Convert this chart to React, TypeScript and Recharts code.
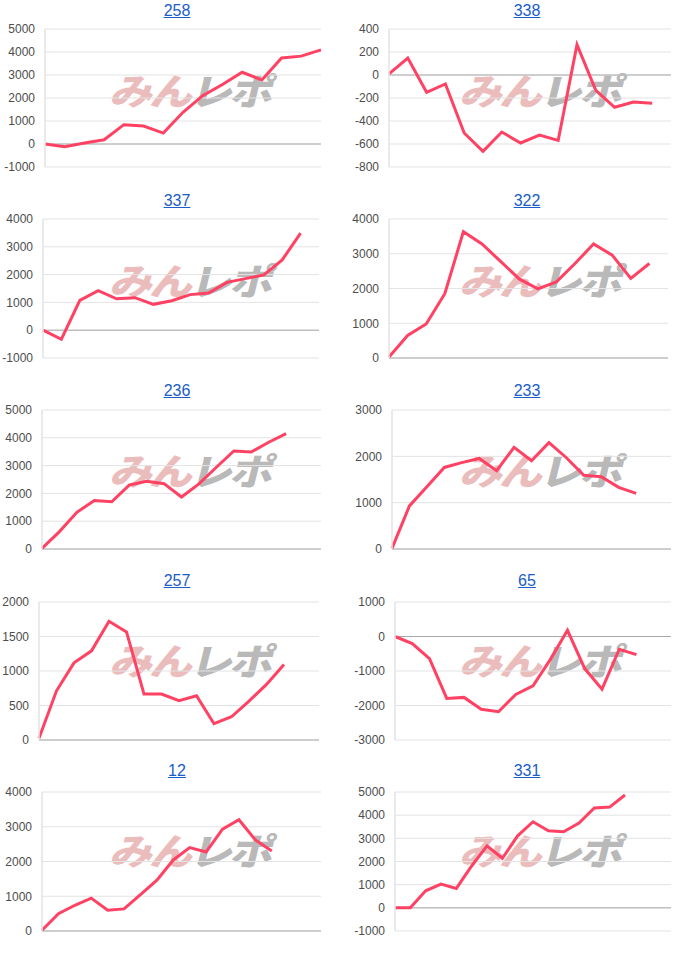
import React from "react";
import { LineChart, Line, XAxis, YAxis, CartesianGrid, ReferenceLine } from "recharts";

// category labels (days) – hidden on the x axis
const days = ["1", "2", "3", "4", "5", "6", "7", "8", "9", "10", "11", "12", "13", "14", "15", "16", "17", "18", "19"];

// series values
const v258 = [0, -120, 40, 185, 840, 780, 475, 1380, 2100, 2590, 3120, 2780, 3740, 3820, 4090];
const v338 = [10, 148, -150, -78, -504, -664, -496, -591, -522, -568, 264, -133, -281, -235, -246];
const v337 = [0, -325, 1070, 1420, 1130, 1170, 930, 1060, 1280, 1340, 1720, 1855, 1990, 2530, 3490];
const v322 = [30, 650, 980, 1850, 3635, 3280, 2780, 2275, 1990, 2190, 2720, 3280, 2960, 2290, 2720];
const v236 = [25, 625, 1320, 1740, 1700, 2300, 2435, 2350, 1870, 2340, 2940, 3525, 3490, 3840, 4150];
const v233 = [15, 930, 1345, 1760, 1865, 1955, 1690, 2195, 1905, 2295, 1970, 1590, 1560, 1330, 1200];
const v257 = [25, 713, 1118, 1292, 1720, 1566, 665, 665, 569, 641, 236, 337, 564, 805, 1094];
const v65 = [0, -205, -640, -1795, -1765, -2110, -2180, -1680, -1430, -670, 180, -930, -1525, -370, -525];
const v12 = [20, 500, 740, 945, 600, 636, 1050, 1465, 2045, 2400, 2275, 2930, 3200, 2620, 2300];
const v331 = [0, 0, 737, 1026, 838, 1807, 2675, 2140, 3108, 3715, 3325, 3280, 3660, 4310, 4350, 4870];

// tick labels
const ticksA = [-1000, 0, 1000, 2000, 3000, 4000, 5000];
const ticks338 = [-800, -600, -400, -200, 0, 200, 400];
const ticks337 = [-1000, 0, 1000, 2000, 3000, 4000];
const ticks0to4000 = [0, 1000, 2000, 3000, 4000];
const ticks0to5000 = [0, 1000, 2000, 3000, 4000, 5000];
const ticks0to3000 = [0, 1000, 2000, 3000];
const ticks257 = [0, 500, 1000, 1500, 2000];
const ticks65 = [-3000, -2000, -1000, 0, 1000];

const titles = ["258", "338", "337", "322", "236", "233", "257", "65", "12", "331"];
const seriesList = [v258, v338, v337, v322, v236, v233, v257, v65, v12, v331];
const tickList = [ticksA, ticks338, ticks337, ticks0to4000, ticks0to5000, ticks0to3000, ticks257, ticks65, ticks0to4000, ticksA];
const catCounts = [15, 16, 16, 16, 17, 17, 17, 17, 18, 19];

// layout (pixels)
const plotLeft = [45, 39, 43, 39, 42, 42, 39, 45, 42, 45];
const plotRightMargin = [29, 29, 31, 32, 29, 29, 31, 29, 29, 29];
const rowTop = [29, 29, 30, 32, 32];
const rowBottom = [167, 168, 169, 170, 171];

const CELL_W = 350;
const CELL_H = 190;

function MiniChart({ idx }: { idx: number }) {
  const col = idx % 2;
  const row = Math.floor(idx / 2);
  const values = seriesList[idx];
  const data = days.slice(0, catCounts[idx]).map((d, i) => ({
    day: d,
    v: i < values.length ? values[i] : null,
  }));
  const ticks = tickList[idx];
  const top = rowTop[row];
  const bottom = CELL_H - rowBottom[row];
  return (
    <div
      style={{
        position: "absolute",
        left: col * CELL_W,
        top: row * CELL_H,
        width: CELL_W,
        height: CELL_H,
      }}
    >
      <div
        style={{
          position: "absolute",
          left: 2,
          top: 1,
          width: CELL_W,
          textAlign: "center",
          fontFamily: "'Liberation Sans', Arial, sans-serif",
          fontSize: 16,
          lineHeight: "20px",
        }}
      >
        <a href="#" style={{ color: "#1a5dc8", textDecoration: "underline" }}>
          {titles[idx]}
        </a>
      </div>
      <div
        style={{
          position: "absolute",
          left: 193 - 100,
          top: 89 - 25,
          width: 200,
          height: 50,
          textAlign: "center",
          fontFamily: "'Noto Sans CJK JP', sans-serif",
          fontWeight: 900,
          fontSize: 43,
          lineHeight: "50px",
          transform: "skewX(-14deg) scaleY(0.85)",
          letterSpacing: -3,
          whiteSpace: "nowrap",
        }}
      >
        <span style={{ color: "#ebbcbc" }}>みん</span>
        <span style={{ color: "#b9b9b9" }}>レポ</span>
      </div>
      <div style={{ position: "absolute", left: 0, top: 0 }}>
        <LineChart
          width={CELL_W}
          height={CELL_H}
          data={data}
          margin={{ top, bottom, left: 0, right: plotRightMargin[idx] }}
        >
          <CartesianGrid horizontal={true} vertical={false} stroke="#e3e3e3" />
          <XAxis dataKey="day" hide />
          <YAxis
            width={plotLeft[idx]}
            domain={[ticks[0], ticks[ticks.length - 1]]}
            ticks={ticks}
            interval={0}
            tickLine={false}
            tickSize={0}
            tickMargin={10}
            axisLine={{ stroke: "#e3e3e3", strokeWidth: 1.5 }}
            tick={{ fill: "#4d4d4d", fontSize: 12, fontFamily: "'Liberation Sans', Arial, sans-serif" }}
          />
          <ReferenceLine y={0} stroke="#aaa" strokeWidth={1} ifOverflow="extendDomain" />
          <Line
            type="linear"
            dataKey="v"
            stroke="#ff4263"
            strokeWidth={3}
            dot={false}
            activeDot={false}
            isAnimationActive={false}
          />
        </LineChart>
      </div>
    </div>
  );
}

export default function App() {
  return (
    <div
      style={{
        position: "absolute",
        left: 0,
        top: 0,
        width: 700,
        height: 955,
        background: "#fff",
        overflow: "hidden",
      }}
    >
      {titles.map((_, i) => (
        <MiniChart key={i} idx={i} />
      ))}
    </div>
  );
}
